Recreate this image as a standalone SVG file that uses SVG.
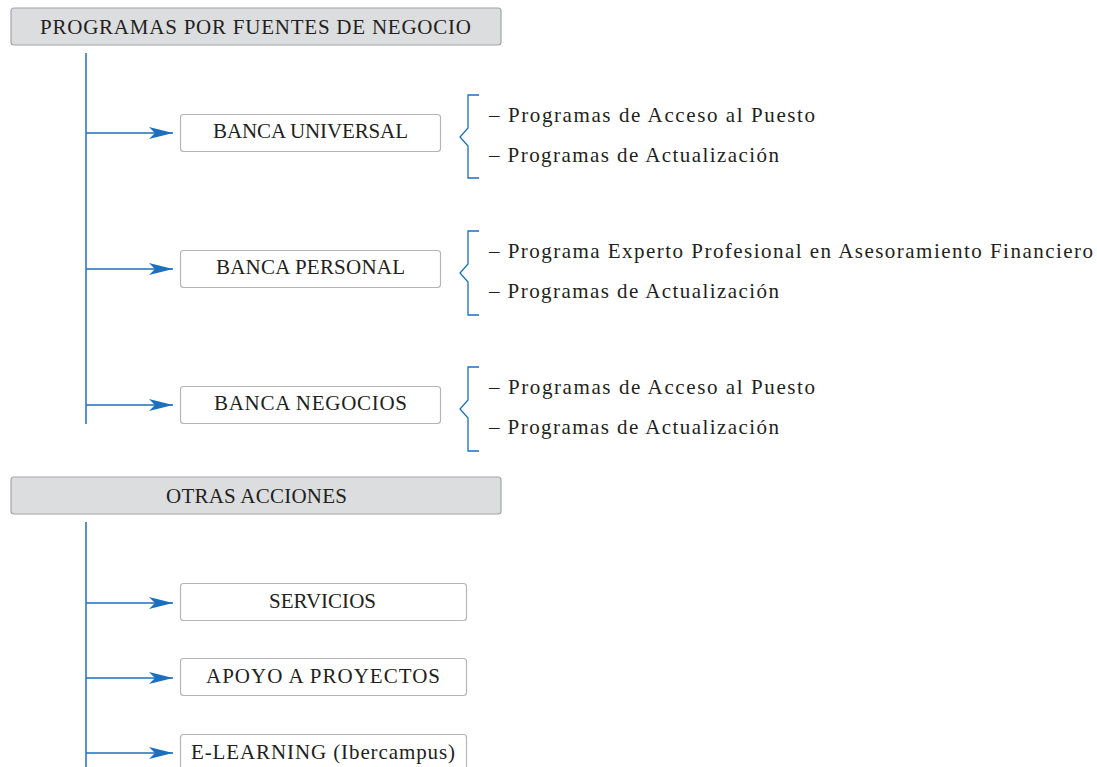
<svg xmlns="http://www.w3.org/2000/svg" width="1097" height="767" viewBox="0 0 1097 767">
<style>
.hdr{fill:#dcdddf;stroke:#a3a4a6;stroke-width:1.2}
.box{fill:#ffffff;stroke:#b4b5b7;stroke-width:1.2}
.ln{stroke:#1b6fbd;stroke-width:1.5;fill:none}
.br{stroke:#1b6fbd;stroke-width:1.3;fill:none}
text{font-family:"Liberation Serif","DejaVu Serif",serif;font-size:21px;fill:#231f20}
.c{text-anchor:middle}
</style>
<defs>
<marker id="ah" markerWidth="24" markerHeight="12" viewBox="0 0 24 12" refX="24" refY="6" orient="auto" markerUnits="userSpaceOnUse">
<path d="M0,0 L24,6 L0,12 L6,6 Z" fill="#1b6fbd"/>
</marker>
</defs>
<rect width="1097" height="767" fill="#ffffff"/>

<g id="connectors">
<line class="ln" x1="86" y1="53" x2="86" y2="424"/>
<line class="ln" x1="86" y1="133" x2="173" y2="133" marker-end="url(#ah)"/>
<line class="ln" x1="86" y1="269" x2="173" y2="269" marker-end="url(#ah)"/>
<line class="ln" x1="86" y1="405" x2="173" y2="405" marker-end="url(#ah)"/>
<line class="ln" x1="86" y1="522" x2="86" y2="767"/>
<line class="ln" x1="86" y1="603" x2="173" y2="603" marker-end="url(#ah)"/>
<line class="ln" x1="86" y1="678" x2="173" y2="678" marker-end="url(#ah)"/>
<line class="ln" x1="86" y1="753" x2="173" y2="753" marker-end="url(#ah)"/>
</g>

<g id="header1">
<rect class="hdr" x="11" y="8" width="490" height="37" rx="3"/>
<text class="c" x="255.5" y="33.5" textLength="431" lengthAdjust="spacing">PROGRAMAS POR FUENTES DE NEGOCIO</text>
</g>

<g id="banca-universal">
<rect class="box" x="180.5" y="114.5" width="260" height="37" rx="3"/>
<text class="c" x="310.5" y="137.5" textLength="195" lengthAdjust="spacing">BANCA UNIVERSAL</text>
</g>
<g id="list-universal">
<path class="br" d="M479,95 H468 V128 L460,137 L468,146 V178 H479"/>
<text x="489" y="122" textLength="326" lengthAdjust="spacing">– Programas de Acceso al Puesto</text>
<text x="489" y="162" textLength="290" lengthAdjust="spacing">– Programas de Actualización</text>
</g>

<g id="banca-personal">
<rect class="box" x="180.5" y="250.5" width="260" height="37" rx="3"/>
<text class="c" x="310.5" y="273.5" textLength="189" lengthAdjust="spacing">BANCA PERSONAL</text>
</g>
<g id="list-personal">
<path class="br" d="M479,231 H468 V264 L460,273 L468,282 V315 H479"/>
<text x="489" y="258" textLength="604" lengthAdjust="spacing">– Programa Experto Profesional en Asesoramiento Financiero</text>
<text x="489" y="298" textLength="290" lengthAdjust="spacing">– Programas de Actualización</text>
</g>

<g id="banca-negocios">
<rect class="box" x="180.5" y="386.5" width="260" height="37" rx="3"/>
<text class="c" x="310.5" y="409.5" textLength="193" lengthAdjust="spacing">BANCA NEGOCIOS</text>
</g>
<g id="list-negocios">
<path class="br" d="M479,367 H468 V400 L460,409 L468,418 V451 H479"/>
<text x="489" y="394" textLength="326" lengthAdjust="spacing">– Programas de Acceso al Puesto</text>
<text x="489" y="434" textLength="290" lengthAdjust="spacing">– Programas de Actualización</text>
</g>

<g id="header2">
<rect class="hdr" x="11" y="477" width="490" height="37" rx="3"/>
<text class="c" x="256.5" y="502.5" textLength="181" lengthAdjust="spacing">OTRAS ACCIONES</text>
</g>

<g id="servicios">
<rect class="box" x="180.5" y="583.5" width="286" height="37" rx="3"/>
<text class="c" x="322.5" y="607.5" textLength="107" lengthAdjust="spacing">SERVICIOS</text>
</g>
<g id="apoyo">
<rect class="box" x="180.5" y="658.5" width="286" height="37" rx="3"/>
<text class="c" x="323" y="682.5" textLength="234" lengthAdjust="spacing">APOYO A PROYECTOS</text>
</g>
<g id="elearning">
<rect class="box" x="180.5" y="734.5" width="286" height="37" rx="3"/>
<text class="c" x="323" y="758.5" textLength="264" lengthAdjust="spacing">E-LEARNING (Ibercampus)</text>
</g>
</svg>
